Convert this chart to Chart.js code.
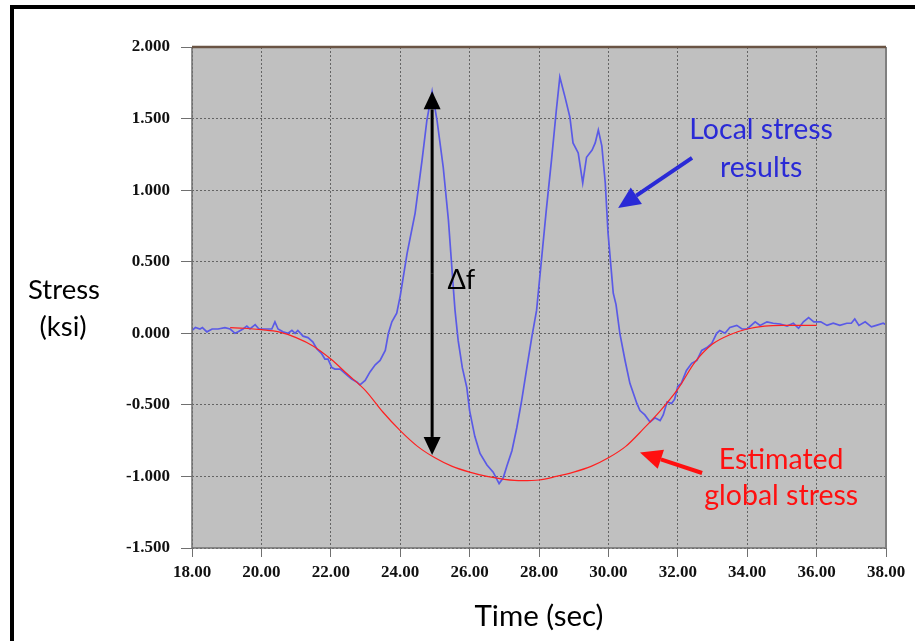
<!DOCTYPE html>
<html><head><meta charset="utf-8">
<script src="https://cdn.jsdelivr.net/npm/chart.js@4.4.1/dist/chart.umd.min.js"></script>
<style>html,body{margin:0;padding:0;background:#fff}canvas{display:block}</style>
</head><body>
<canvas id="c" width="915" height="641"></canvas>
<script>
// ---- data ----
const timeLocal = [18.0,18.1,18.23,18.3,18.43,18.58,18.75,18.95,19.1,19.24,19.33,19.47,19.58,19.67,19.82,19.93,20.05,20.19,20.3,20.39,20.48,20.62,20.77,20.88,20.97,21.05,21.2,21.34,21.48,21.6,21.73,21.83,21.92,22.03,22.12,22.27,22.41,22.6,22.75,22.84,22.99,23.13,23.28,23.42,23.57,23.66,23.76,23.9,24.0,24.2,24.43,24.63,24.77,24.92,25.06,25.24,25.39,25.53,25.58,25.67,25.79,25.92,26.0,26.15,26.3,26.5,26.68,26.85,26.97,27.07,27.22,27.36,27.5,27.65,27.79,27.93,28.07,28.21,28.36,28.5,28.6,28.75,28.89,28.98,29.13,29.26,29.37,29.53,29.62,29.71,29.81,29.91,29.99,30.14,30.22,30.33,30.48,30.62,30.82,30.91,31.05,31.2,31.34,31.49,31.58,31.69,31.82,31.91,32.0,32.1,32.25,32.4,32.55,32.69,32.84,32.98,33.12,33.21,33.36,33.5,33.7,33.85,34.0,34.23,34.37,34.57,34.75,34.95,35.15,35.33,35.48,35.62,35.77,35.92,36.12,36.3,36.48,36.67,36.87,37.0,37.1,37.22,37.4,37.58,37.72,37.92,38.0];
const stressLocal = [0.02,0.04,0.03,0.04,0.01,0.03,0.03,0.04,0.03,0.0,0.01,0.03,0.05,0.03,0.06,0.03,0.03,0.03,0.03,0.08,0.03,0.01,0.0,0.02,0.0,0.02,-0.02,-0.03,-0.06,-0.11,-0.14,-0.18,-0.18,-0.24,-0.25,-0.25,-0.28,-0.32,-0.34,-0.36,-0.33,-0.27,-0.22,-0.19,-0.12,0.0,0.08,0.14,0.26,0.56,0.84,1.21,1.49,1.69,1.49,1.16,0.79,0.32,0.16,-0.05,-0.24,-0.38,-0.54,-0.72,-0.84,-0.92,-0.97,-1.05,-1.01,-0.93,-0.82,-0.66,-0.47,-0.24,-0.03,0.16,0.51,0.86,1.21,1.56,1.79,1.65,1.51,1.33,1.26,1.05,1.23,1.28,1.33,1.42,1.31,1.05,0.70,0.28,0.2,0.0,-0.19,-0.35,-0.49,-0.54,-0.57,-0.62,-0.59,-0.61,-0.57,-0.48,-0.49,-0.46,-0.37,-0.35,-0.26,-0.21,-0.19,-0.12,-0.1,-0.07,0.0,0.02,0.0,0.04,0.055,0.03,0.03,0.08,0.055,0.08,0.07,0.065,0.05,0.07,0.035,0.08,0.11,0.08,0.08,0.055,0.07,0.055,0.07,0.07,0.1,0.055,0.08,0.045,0.055,0.07,0.06];
const timeGlobal = [19.1,19.5,20.0,20.5,21.0,21.5,22.0,22.5,23.0,23.5,24.0,24.5,25.0,25.5,26.0,26.5,27.0,27.5,28.0,28.5,29.0,29.5,30.0,30.5,31.0,31.5,32.0,32.5,33.0,33.5,34.0,34.5,35.0,35.5,36.0];
const stressGlobal = [0.04,0.035,0.025,0.01,-0.03,-0.09,-0.18,-0.29,-0.40,-0.55,-0.68,-0.79,-0.87,-0.93,-0.97,-1.0,-1.02,-1.03,-1.025,-1.0,-0.97,-0.93,-0.87,-0.79,-0.67,-0.54,-0.39,-0.2,-0.075,-0.01,0.03,0.05,0.055,0.055,0.055];
const xTicks = [18,20,22,24,26,28,30,32,34,36,38];
const yTicks = [-1.5,-1.0,-0.5,0,0.5,1.0,1.5,2.0];
const xTitle = 'Time (sec)';
const yTitle = ['Stress','(ksi)'];
const localLabel = ['Local stress','results'];
const globalLabel = ['Estimated','global stress'];
const deltaLabel = 'Δf';
// annotation anchors in data units
const deltaArrow = {t:24.92, top:1.69, bottom:-0.85};
const localArrow = {t1:32.41, v1:1.225, t2:30.28, v2:0.875};
const globalArrow = {t1:32.70, v1:-0.976, t2:30.91, v2:-0.832};

function arrow(ctx, x1, y1, x2, y2, color, w, hl, hw){
  const a = Math.atan2(y2-y1, x2-x1);
  const bx = x2 - hl*Math.cos(a), by = y2 - hl*Math.sin(a);
  ctx.save();
  ctx.strokeStyle = color; ctx.fillStyle = color; ctx.lineWidth = w; ctx.lineCap='butt';
  ctx.beginPath(); ctx.moveTo(x1,y1); ctx.lineTo(bx,by); ctx.stroke();
  ctx.beginPath(); ctx.moveTo(x2,y2);
  ctx.lineTo(bx + hw/2*Math.sin(a), by - hw/2*Math.cos(a));
  ctx.lineTo(bx - hw/2*Math.sin(a), by + hw/2*Math.cos(a));
  ctx.closePath(); ctx.fill();
  ctx.restore();
}

const decor = {
  id:'decor',
  beforeDraw(chart){
    const {ctx, chartArea:a} = chart;
    ctx.save();
    ctx.fillStyle = '#fff'; ctx.fillRect(0,0,chart.width,chart.height);
    ctx.fillStyle = '#000';
    ctx.fillRect(10,5,chart.width-10,4);
    ctx.fillRect(10,5,4,chart.height-5);
    ctx.fillStyle = '#c0c0c0';
    ctx.fillRect(a.left,a.top,a.right-a.left,a.bottom-a.top);
    ctx.restore();
  },
  afterDatasetsDraw(chart){
    const {ctx, chartArea:a} = chart;
    const xs = chart.scales.x, ys = chart.scales.y;
    const X = t => xs.getPixelForValue(t), Y = v => ys.getPixelForValue(v);
    ctx.save();
    // plot frame
    ctx.lineWidth = 1.5; ctx.strokeStyle = '#707070';
    ctx.beginPath(); ctx.moveTo(a.left, a.top); ctx.lineTo(a.left, a.bottom); ctx.lineTo(a.right, a.bottom); ctx.stroke();
    ctx.strokeStyle = '#808080'; ctx.lineWidth = 2;
    ctx.beginPath(); ctx.moveTo(a.right, a.top); ctx.lineTo(a.right, a.bottom); ctx.stroke();
    ctx.strokeStyle = '#6a5444'; ctx.lineWidth = 2.5;
    ctx.beginPath(); ctx.moveTo(a.left, a.top); ctx.lineTo(a.right, a.top); ctx.stroke();
    // delta f double arrow
    const dx = X(deltaArrow.t), dt = Y(deltaArrow.top), db = Y(deltaArrow.bottom);
    const mid = (dt+db)/2;
    arrow(ctx, dx, mid, dx, dt, '#000', 3, 18, 17);
    arrow(ctx, dx, mid, dx, db, '#000', 3, 18, 17);
    arrow(ctx, X(localArrow.t1), Y(localArrow.v1), X(localArrow.t2), Y(localArrow.v2), '#2a2ad6', 4, 22, 20);
    arrow(ctx, X(globalArrow.t1), Y(globalArrow.v1), X(globalArrow.t2), Y(globalArrow.v2), '#ff1010', 4, 22, 20);
    // texts
    ctx.textBaseline = 'middle'; ctx.textAlign = 'left';
    ctx.fillStyle = '#000'; ctx.font = '27px Lato';
    ctx.fillText(deltaLabel, X(25.36), Y(0.37));
    ctx.textAlign = 'center';
    ctx.fillStyle = '#2a2ad6'; ctx.font = '28.5px Lato';
    ctx.fillText(localLabel[0], X(34.4), Y(1.42));
    ctx.fillText(localLabel[1], X(34.4), Y(1.155));
    ctx.fillStyle = '#ff1010';
    ctx.fillText(globalLabel[0], X(34.98), Y(-0.885));
    ctx.fillText(globalLabel[1], X(34.98), Y(-1.135));
    ctx.fillStyle = '#000'; ctx.font = '27.5px Lato';
    ctx.fillText(yTitle[0], 64, 290);
    ctx.fillText(yTitle[1], 63, 327);
    ctx.font = '29.5px Lato';
    ctx.fillText(xTitle, 539, 616);
    ctx.restore();
  }
};

const tickFont = {family:'"Liberation Serif", "Times New Roman", serif', size:17, weight:'bold'};

new Chart(document.getElementById('c'), {
  type:'line',
  data:{
    datasets:[
      {label:'Estimated global stress', data: timeGlobal.map((t,i)=>({x:t,y:stressGlobal[i]})),
       borderColor:'#ff2020', borderWidth:1.2, pointRadius:0, fill:false, cubicInterpolationMode:'monotone'},
      {label:'Local stress results', data: timeLocal.map((t,i)=>({x:t,y:stressLocal[i]})),
       borderColor:'#5a5ae6', borderWidth:1.7, pointRadius:0, fill:false, tension:0}
    ]
  },
  options:{
    responsive:false, animation:false, devicePixelRatio:1,
    layout:{padding:{top:47,right:29,left:0,bottom:0}},
    plugins:{legend:{display:false}, tooltip:{enabled:false}},
    scales:{
      x:{type:'linear', min:18, max:38,
         afterBuildTicks: s => { s.ticks = xTicks.map(v=>({value:v})); },
         afterFit: s => { s.height = 93; },
         ticks:{callback:v=>Number(v).toFixed(2), font:tickFont, color:'#111', padding:5, maxRotation:0, autoSkip:false},
         grid:{color:'#646464', lineWidth:1, tickLength:9, tickColor:'#707070', tickBorderDash:[], drawTicks:true},
         border:{display:false, dash:[2,2]}},
      y:{type:'linear', min:-1.5, max:2,
         afterBuildTicks: s => { s.ticks = yTicks.map(v=>({value:v})); },
         afterFit: s => { s.width = 192; },
         ticks:{callback:v=>Number(v).toFixed(3), font:tickFont, color:'#111', padding:11, autoSkip:false},
         grid:{color:'#646464', lineWidth:1, tickLength:11, tickColor:'#707070', tickBorderDash:[], drawTicks:true},
         border:{display:false, dash:[2,2]}}
    }
  },
  plugins:[decor]
});
</script>
</body></html>
